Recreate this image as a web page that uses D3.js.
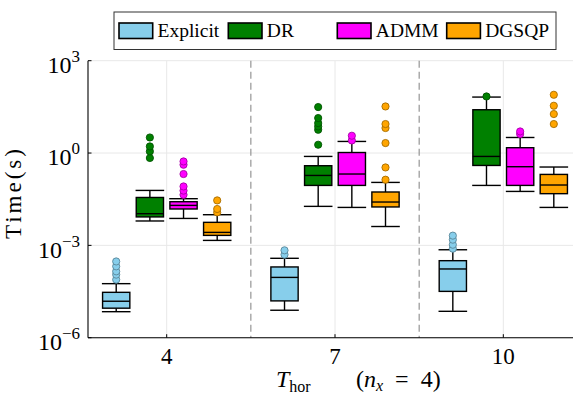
<!DOCTYPE html>
<html>
<head>
<meta charset="utf-8">
<script src="https://cdn.jsdelivr.net/npm/d3@7"></script>
<style>
  html, body { margin: 0; padding: 0; background: #fff; }
  svg { display: block; }
</style>
</head>
<body>
<svg id="chart" width="574" height="396" font-family="'Liberation Serif', 'DejaVu Serif', serif"></svg>
<script>
// ---------- data ----------
const groups = ["4", "7", "10"];
const methods = ["Explicit", "DR", "ADMM", "DGSQP"];
const colors = ["#87CEEB", "#008000", "#FF00FF", "#FFA500"];
const yTicks = [1e-6, 1e-3, 1e0, 1e3];
const yTickExp = ["−6", "−3", "0", "3"];

// box statistics per method, one entry per group (4, 7, 10): [whiskerLow, q1, median, q3, whiskerHigh]
const explicitStats = [
  [7.0e-6, 9.1e-6, 1.53e-5, 2.98e-5, 5.7e-5],
  [7.8e-6, 1.57e-5, 9.1e-5, 1.99e-4, 3.8e-4],
  [7.2e-6, 3.2e-5, 1.71e-4, 3.18e-4, 7.2e-4]
];
const drStats = [
  [6.2e-3, 8.4e-3, 1.07e-2, 3.6e-2, 6.1e-2],
  [0.0185, 0.0887, 0.187, 0.387, 0.776],
  [0.0887, 0.395, 0.776, 25.5, 65.8]
];
const admmStats = [
  [7.5e-3, 1.52e-2, 1.99e-2, 2.62e-2, 3.28e-2],
  [0.0171, 0.0887, 0.208, 1.04, 2.38],
  [0.0566, 0.0887, 0.359, 1.49, 3.2]
];
const dgsqpStats = [
  [1.45e-3, 2.11e-3, 2.64e-3, 5.6e-3, 9.9e-3],
  [4.1e-3, 0.0177, 0.0256, 0.0542, 0.111],
  [0.0171, 0.0478, 0.0914, 0.202, 0.351]
];
// outliers per method, one list per group
const explicitOutliers = [
  [7.7e-5, 1.12e-4, 1.43e-4, 2.08e-4, 3.0e-4],
  [5.0e-4, 6.9e-4],
  [7.8e-4, 1.05e-3, 1.53e-3, 2.07e-3]
];
const drOutliers = [
  [0.69, 1.13, 1.64, 3.2],
  [1.86, 5.7, 7.3, 9.4, 13.7, 31.2],
  [68.9]
];
const admmOutliers = [
  [0.044, 0.06, 0.082, 0.208, 0.417, 0.533],
  [2.56, 3.65],
  [4.14, 5.02]
];
const dgsqpOutliers = [
  [0.0118, 0.0152, 0.0289],
  [0.136, 0.34, 2.11, 6.5, 8.75, 32.6],
  [8.75, 18.5, 34.4, 78.2]
];
const allStats = [explicitStats, drStats, admmStats, dgsqpStats];
const allOutliers = [explicitOutliers, drOutliers, admmOutliers, dgsqpOutliers];

// ---------- layout ----------
const svg = d3.select("#chart");
const plotL = 88, plotR = 573, plotT = 60.7, plotB = 337.7;

const x = d3.scaleLinear().domain([-0.4676, 2.414]).range([plotL, plotR]);
const y = d3.scaleLog().domain([1e-6, 1e3]).range([plotB, plotT]);
const slot = 0.2;      // spacing between methods (group units)
const boxW = 0.162;    // box width (group units)
const capW = 0.085;    // whisker cap half width

// gridlines
const grid = svg.append("g");
yTicks.forEach(t => {
  grid.append("line").attr("x1", plotL).attr("x2", plotR)
    .attr("y1", y(t)).attr("y2", y(t))
    .attr("stroke", "#e8e8e8").attr("stroke-width", 1);
});
groups.forEach((g, i) => {
  grid.append("line").attr("x1", x(i)).attr("x2", x(i))
    .attr("y1", plotT).attr("y2", plotB)
    .attr("stroke", "#e8e8e8").attr("stroke-width", 1);
});

// dashed separators
[0.5, 1.5].forEach(v => {
  svg.append("line").attr("x1", x(v)).attr("x2", x(v))
    .attr("y1", plotT).attr("y2", plotB)
    .attr("stroke", "#8c8c8c").attr("stroke-width", 1.1)
    .attr("stroke-dasharray", "7,4");
});

// boxes
const boxes = svg.append("g");
methods.forEach((m, j) => {
  const col = colors[j];
  const strokeOut = d3.color(col).darker(1.2).formatHex();
  groups.forEach((g, i) => {
    const s = allStats[j][i];
    const cx = i + (j - 1.5) * slot;
    const gx = boxes.append("g");
    gx.append("line").attr("x1", x(cx)).attr("x2", x(cx))
      .attr("y1", y(s[0])).attr("y2", y(s[1]))
      .attr("stroke", "#000").attr("stroke-width", 1.4);
    gx.append("line").attr("x1", x(cx)).attr("x2", x(cx))
      .attr("y1", y(s[3])).attr("y2", y(s[4]))
      .attr("stroke", "#000").attr("stroke-width", 1.4);
    [s[0], s[4]].forEach(v => {
      gx.append("line").attr("x1", x(cx - capW)).attr("x2", x(cx + capW))
        .attr("y1", y(v)).attr("y2", y(v))
        .attr("stroke", "#000").attr("stroke-width", 1.4);
    });
    gx.append("rect")
      .attr("x", x(cx - boxW / 2)).attr("width", x(cx + boxW / 2) - x(cx - boxW / 2))
      .attr("y", y(s[3])).attr("height", y(s[1]) - y(s[3]))
      .attr("fill", col).attr("stroke", "#000").attr("stroke-width", 1.4);
    gx.append("line").attr("x1", x(cx - boxW / 2)).attr("x2", x(cx + boxW / 2))
      .attr("y1", y(s[2])).attr("y2", y(s[2]))
      .attr("stroke", "#000").attr("stroke-width", 1.4);
    allOutliers[j][i].forEach(v => {
      gx.append("circle").attr("cx", x(cx)).attr("cy", y(v)).attr("r", 3.6)
        .attr("fill", col).attr("stroke", strokeOut).attr("stroke-width", 0.9);
    });
  });
});

// axes lines
svg.append("line").attr("x1", plotL).attr("x2", plotL).attr("y1", plotT).attr("y2", plotB)
  .attr("stroke", "#000").attr("stroke-width", 1.1);
svg.append("line").attr("x1", plotL).attr("x2", plotR).attr("y1", plotB).attr("y2", plotB)
  .attr("stroke", "#000").attr("stroke-width", 1.1);

// y ticks + labels
yTicks.forEach((t, k) => {
  svg.append("line").attr("x1", plotL).attr("x2", plotL + 3.5)
    .attr("y1", y(t)).attr("y2", y(t)).attr("stroke", "#000").attr("stroke-width", 1);
  const tx = svg.append("text").attr("x", 80).attr("y", y(t) + 12.4)
    .attr("text-anchor", "end").style("font-size", "24px");
  tx.append("tspan").text("10");
  tx.append("tspan").attr("dy", -11).style("font-size", "17px").text(yTickExp[k]);
});

// x ticks + labels
groups.forEach((g, i) => {
  svg.append("line").attr("x1", x(i)).attr("x2", x(i))
    .attr("y1", plotB).attr("y2", plotB - 3.5).attr("stroke", "#000").attr("stroke-width", 1);
  svg.append("text").attr("x", x(i)).attr("y", 363.5)
    .attr("text-anchor", "middle").style("font-size", "23px").text(g);
});

// x axis label
const xl = svg.append("text").attr("x", 276).attr("y", 387).style("font-size", "24px");
xl.append("tspan").style("font-style", "italic").text("T");
xl.append("tspan").attr("dy", 5).style("font-size", "16px").text("hor");
xl.append("tspan").attr("dy", -5).attr("x", 356).text("(");
xl.append("tspan").style("font-style", "italic").text("n");
xl.append("tspan").attr("dy", 4).style("font-size", "16px").style("font-style", "italic").text("x");
xl.append("tspan").attr("dy", -4).text("\u2002=\u20024)");

// y axis label
svg.append("text")
  .attr("transform", "translate(21,194) rotate(-90)")
  .attr("text-anchor", "middle").style("font-size", "23px")
  .attr("textLength", 90).attr("lengthAdjust", "spacing")
  .text("Time(s)");

// legend
const leg = svg.append("g");
leg.append("rect").attr("x", 114).attr("y", 12).attr("width", 442).attr("height", 37.5)
  .attr("fill", "#fff").attr("stroke", "#333").attr("stroke-width", 1);
const legX = [119, 228.3, 337.3, 446.7];
methods.forEach((m, j) => {
  leg.append("rect").attr("x", legX[j]).attr("y", 23).attr("width", 33.7).attr("height", 15.5)
    .attr("fill", colors[j]).attr("stroke", "#000").attr("stroke-width", 1.6);
  leg.append("text").attr("x", legX[j] + 38.5).attr("y", 36.8)
    .style("font-size", "19.5px").text(m);
});
</script>
</body>
</html>
